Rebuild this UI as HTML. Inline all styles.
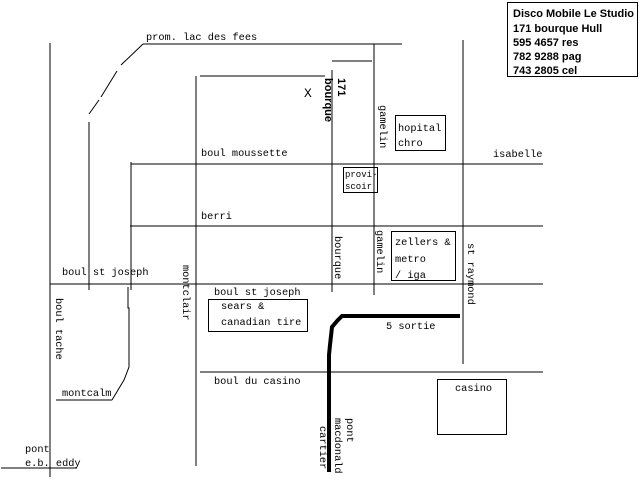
<!DOCTYPE html>
<html><head><meta charset="utf-8"><style>
html,body{margin:0;padding:0;background:#fff;width:640px;height:480px;overflow:hidden}
svg text{font-family:"Liberation Mono",monospace;font-size:10.3px;fill:#000}
.b{font-family:"Liberation Sans",sans-serif;font-weight:bold;font-size:11px}
</style></head><body>
<svg width="640" height="480" viewBox="0 0 640 480" xmlns="http://www.w3.org/2000/svg">
<g stroke="#000" stroke-width="1" fill="none" shape-rendering="crispEdges">
<line x1="50" y1="43" x2="50" y2="477"/>
<line x1="143" y1="44" x2="402" y2="44"/>
<line x1="89" y1="122" x2="89" y2="290"/>
<line x1="131" y1="162" x2="131" y2="290"/>
<line x1="196" y1="76" x2="196" y2="466"/>
<line x1="200" y1="76" x2="325" y2="76"/>
<line x1="332" y1="61" x2="372" y2="61"/>
<line x1="332" y1="70" x2="332" y2="292"/>
<line x1="374" y1="44" x2="374" y2="295"/>
<line x1="463" y1="40" x2="463" y2="364"/>
<line x1="131" y1="164" x2="543" y2="164"/>
<line x1="130" y1="226" x2="543" y2="226"/>
<line x1="50" y1="284" x2="543" y2="284"/>
<line x1="200" y1="372" x2="543" y2="372"/>
<line x1="1" y1="468" x2="77" y2="468"/>
<line x1="56" y1="400" x2="112" y2="400"/>
<rect x="507.5" y="2.5" width="130" height="74"/>
<rect x="395.5" y="115.5" width="50" height="35"/>
<rect x="343.5" y="167.5" width="34" height="25"/>
<rect x="391.5" y="231.5" width="64" height="49"/>
<rect x="208.5" y="299.5" width="99" height="32"/>
<rect x="437.5" y="379.5" width="69" height="55"/>
</g>
<g stroke="#000" stroke-width="1" fill="none">
<polyline points="143,44 121,65"/>
<polyline points="117,71 101,97"/>
<polyline points="99,100 89,114"/>
<polyline points="128,287 128,308 129,308 129,367 124,380 112,400"/>
<polyline points="329,472 329,355 330,345 332,327 338,320 342,316 460,316" stroke-width="4"/>
</g>
<text x="146" y="40">prom. lac des fees</text>
<text x="201" y="156">boul moussette</text>
<text x="201" y="219">berri</text>
<text x="493" y="157">isabelle</text>
<text x="62" y="275">boul st joseph</text>
<text x="214" y="295">boul st joseph</text>
<text x="214" y="384">boul du casino</text>
<text x="386" y="329">5 sortie</text>
<text x="62" y="396">montcalm</text>
<text x="25" y="452">pont</text>
<text x="25" y="466">e.b. eddy</text>
<text x="304" y="97" style="font-size:13px">X</text>
<text x="398" y="131">hopital</text>
<text x="398" y="146">chro</text>
<text x="345" y="177" style="font-size:9px">provi-</text>
<text x="345" y="189" style="font-size:9px">scoir</text>
<text x="395" y="245">zellers &amp;</text>
<text x="395" y="262">metro</text>
<text x="395" y="278">/ iga</text>
<text x="221" y="309">sears &amp;</text>
<text x="221" y="325">canadian tire</text>
<text x="455" y="391">casino</text>
<text class="b" x="513" y="17">Disco Mobile Le Studio</text>
<text class="b" x="513" y="32">171 bourque Hull</text>
<text class="b" x="513" y="46">595 4657 res</text>
<text class="b" x="513" y="60">782 9288 pag</text>
<text class="b" x="513" y="74">743 2805 cel</text>
<text class="b" transform="translate(338,78) rotate(90)">171</text>
<text class="b" transform="translate(325,78) rotate(90)">bourque</text>
<text transform="translate(380,105) rotate(90)">gamelin</text>
<text transform="translate(335,236) rotate(90)">bourque</text>
<text transform="translate(377,230) rotate(90)">gamelin</text>
<text transform="translate(468,243) rotate(90)">st raymond</text>
<text transform="translate(183,265) rotate(90)">montclair</text>
<text transform="translate(56,298) rotate(90)">boul tache</text>
<text transform="translate(320,426) rotate(90)">cartier</text>
<text transform="translate(347,418) rotate(90)">pont</text>
<text transform="translate(335,418) rotate(90)">macdonald</text>
</svg>
</body></html>
